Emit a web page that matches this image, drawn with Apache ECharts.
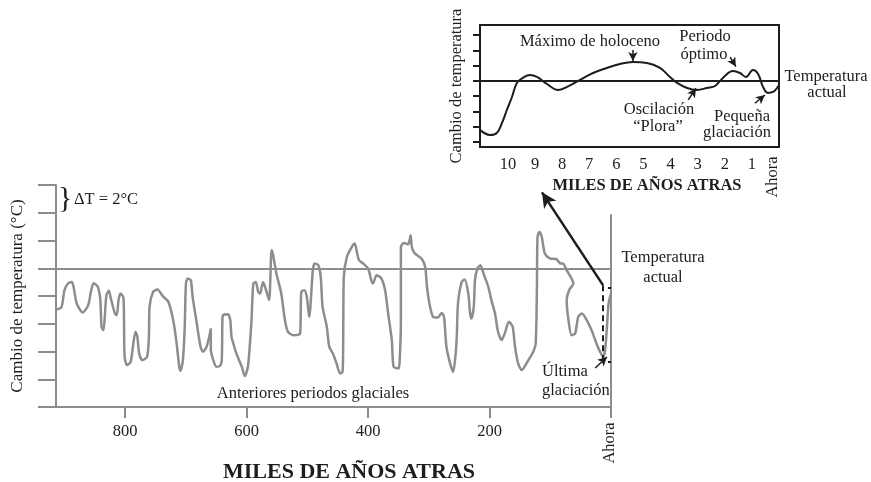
<!DOCTYPE html>
<html><head><meta charset="utf-8">
<script src="https://cdn.jsdelivr.net/npm/echarts@6/dist/echarts.min.js"></script>
<style>html,body{margin:0;padding:0;background:#fff}#c{width:871px;height:482px}</style>
</head><body><div id="c"></div>
<script>
// ---- data (thousands of years ago, temperature change in tick units) ----
const mainYears = [913,905,900,894,888,885,880,870,861,856,
 852,845,841,839,836,834,831,827,823,817,
 814,811,808,803,802,801,797,791,787,783,
 780,777,772,764,761,760,754,747,738,729,
 721,716,711,709,705,702,700,697,692,689,
 683,676,672,666,661,659,659,655,650,644,
 641,640,639,631,627,625,622,617,608,603,
 598,595,592,589,585,581,578,573,568,563,
 559,557,551,543,537,532,523,512,511,510,
 505,501,497,491,488,482,478,475,468,464,
 458,452,446,442,441,440,435,427,422,418,
 415,408,400,394,392,386,378,372,367,361,
 358,350,348,346,346,341,334,330,328,323,
 312,306,303,298,293,285,279,275,271,265,
 260,256,254,252,246,241,235,232,230,226,
 224,220,215,210,202,197,191,186,180,175,
 168,162,158,153,147,136,128,124,122,121,
 118,114,109,101,90,84,79,73,65,62,
 69,73,70,65,59,54,48,40,32,24,
 18,13,10,7,4,0];
const mainTemps = [-2.97,-2.81,-1.58,-1.08,-0.99,-1.35,-2.52,-3.19,-2.66,-1.58,
 -1.08,-1.35,-2.30,-4.22,-4.46,-3.74,-1.94,-1.63,-2.30,-3.26,
 -3.38,-2.30,-1.82,-2.11,-3.74,-6.38,-6.98,-6.74,-5.54,-4.58,
 -4.94,-6.14,-6.62,-6.38,-4.94,-2.78,-1.70,-1.53,-2.01,-2.42,
 -3.74,-5.18,-7.10,-7.39,-6.62,-4.22,-1.10,-0.74,-0.86,-2.06,
 -3.74,-5.66,-6.02,-5.66,-4.82,-4.34,-5.90,-6.62,-7.10,-7.05,
 -6.62,-3.74,-3.38,-3.31,-3.74,-4.94,-5.42,-6.14,-7.10,-7.77,
 -7.10,-5.66,-3.74,-1.10,-0.99,-1.70,-1.82,-0.99,-1.58,-2.30,
 1.29,1.06,-0.38,-1.82,-3.74,-4.58,-4.82,-4.70,-3.26,-1.70,
 -1.58,-2.06,-3.50,-0.14,0.34,0.22,-0.63,-2.78,-4.22,-5.66,
 -6.14,-6.86,-7.58,-7.46,-4.94,-0.63,0.81,1.53,1.78,1.06,
 0.58,0.34,-0.02,-0.99,-1.10,-0.50,-0.74,-1.58,-3.26,-5.18,
 -7.10,-7.22,-6.62,-3.74,1.53,1.82,1.73,2.37,1.53,1.06,
 0.70,0.09,-1.35,-2.78,-3.50,-3.55,-3.22,-3.50,-5.66,-6.86,
 -7.46,-6.26,-4.94,-2.54,-0.99,-0.81,-1.82,-3.26,-3.62,-2.78,
 -0.86,-0.02,0.22,-0.38,-1.35,-2.30,-3.26,-4.58,-5.18,-4.70,
 -3.86,-4.22,-5.66,-6.86,-7.34,-6.62,-6.02,-5.42,-1.35,2.25,
 2.61,2.25,1.06,0.72,0.65,0.36,0.34,-0.14,-0.74,-1.10,
 -1.58,-2.30,-3.74,-4.82,-4.70,-3.50,-3.26,-3.74,-4.46,-5.42,
 -6.02,-6.38,-6.02,-4.46,-2.54,-1.80];
const mainXTicks = [800, 600, 400, 200];

const insetYears = [11.03,10.66,10.41,10.22,10.04,9.85,9.67,9.45,9.19,8.93,8.56,8.15,7.82,7.34,6.86,6.35,5.87,5.39,4.87,4.39,4.02,3.76,3.39,3.03,2.66,2.36,2.07,1.70,1.44,1.22,0.96,0.77,0.59,0.41,0.22,0.0];
const insetTemps = [-3.20,-3.53,-3.40,-2.75,-1.90,-1.05,-0.13,0.20,0.39,0.26,-0.20,-0.59,-0.39,0.07,0.52,0.85,1.11,1.24,1.18,0.85,0.26,-0.13,-0.46,-0.59,-0.46,-0.33,0.20,0.65,0.52,0.26,0.72,0.46,-0.39,-0.78,-0.72,-0.26];
const insetXTicks = [10, 9, 8, 7, 6, 5, 4, 3, 2, 1];
const insetYTicks = [-4, -3, -2, -1, 0, 1, 2, 3];

// ---- styling ----
const FONT = 'Liberation Serif';
const INK = '#1d1d1b';
const GREY = '#8d8d8d';
const FS = 16.5;

const mainData = mainYears.map((y, i) => [y, mainTemps[i]]);
const insetData = insetYears.map((y, i) => [y, insetTemps[i]]);

function txt(text, x, y, o) {
  o = o || {};
  return { type: 'text', x: x, y: y, rotation: o.rot || 0, silent: true, z: 100,
    style: { text: text, fill: INK, fontSize: o.size || FS, fontFamily: FONT,
      fontWeight: o.bold ? 'bold' : 'normal', align: o.align || 'center', verticalAlign: 'middle' } };
}
function seg(a, b, color, width, extra) {
  const s = Object.assign({ coord: a, lineStyle: { color: color, width: width, type: 'solid' } }, extra && extra.from);
  const e = Object.assign({ coord: b }, extra && extra.to);
  return [s, e];
}
const ARROW = { to: { symbol: 'arrow', symbolSize: [7, 9] } };

const chart = echarts.init(document.getElementById('c'), null, { renderer: 'canvas' });
const option = {
  animation: false,
  backgroundColor: '#fff',
  grid: [
    { left: 56, top: 185, width: 555, height: 222, show: false },
    { left: 480, top: 25, width: 299, height: 122, show: true, borderColor: INK, borderWidth: 2, backgroundColor: 'transparent' }
  ],
  xAxis: [
    { gridIndex: 0, type: 'value', inverse: true, min: 0, max: 914,
      axisLine: { show: true, onZero: false, lineStyle: { color: GREY, width: 2 } },
      axisTick: { show: true, customValues: mainXTicks.concat([0]), length: 11, lineStyle: { color: GREY, width: 2 } },
      axisLabel: { show: true, customValues: mainXTicks, margin: 16, color: INK, fontSize: FS, fontFamily: FONT },
      splitLine: { show: false } },
    { gridIndex: 1, type: 'value', inverse: true, min: 0, max: 11.03,
      axisLine: { show: false, onZero: false }, axisTick: { show: false },
      axisLabel: { show: true, customValues: insetXTicks, margin: 9, color: INK, fontSize: FS, fontFamily: FONT },
      splitLine: { show: false } }
  ],
  yAxis: [
    { gridIndex: 0, type: 'value', min: -10, max: 6, interval: 2,
      axisLine: { show: true, onZero: false, lineStyle: { color: GREY, width: 2 } },
      axisTick: { show: true, length: 18, lineStyle: { color: GREY, width: 2 } },
      axisLabel: { show: false }, splitLine: { show: false },
      name: 'Cambio de temperatura (°C)', nameLocation: 'middle', nameGap: 30, nameRotate: 90,
      nameTextStyle: { color: INK, fontSize: 17, fontFamily: FONT } },
    { gridIndex: 1, type: 'value', min: -4.32, max: 3.66,
      axisLine: { show: false, onZero: false },
      axisTick: { show: true, customValues: insetYTicks, length: 7, lineStyle: { color: INK, width: 2 } },
      axisLabel: { show: false }, splitLine: { show: false },
      name: 'Cambio de temperatura', nameLocation: 'middle', nameGap: 15, nameRotate: 90,
      nameTextStyle: { color: INK, fontSize: 16.5, fontFamily: FONT } }
  ],
  series: [
    { type: 'line', xAxisIndex: 0, yAxisIndex: 0, data: mainData, symbol: 'none', smooth: 0.25,
      lineStyle: { color: GREY, width: 2.5 }, z: 3,
      markLine: { silent: true, symbol: ['none', 'none'], label: { show: false }, lineStyle: { type: 'solid' },
        data: [
          { yAxis: 0, lineStyle: { color: GREY, width: 2, type: 'solid' } },
          seg([0, 3.9], [0, -10], GREY, 2),
          [{ coord: [13.2, -1.22], lineStyle: { color: INK, width: 2, type: [6, 4] } }, { coord: [13.2, -6.74] }],
          seg([5, -1.39], [0, -1.39], INK, 2),
          seg([5, -6.74], [0, -6.74], INK, 2),
          seg([13.2, -1.22], [113.7, 5.47], INK, 2.5, { to: { symbol: 'arrow', symbolSize: [11, 15] } }),
          seg([26, -7.19], [6.6, -6.4], INK, 1.5, ARROW)
        ] } },
    { type: 'line', xAxisIndex: 1, yAxisIndex: 1, data: insetData, symbol: 'none', smooth: 0.4,
      lineStyle: { color: INK, width: 2 }, z: 3,
      markLine: { silent: true, symbol: ['none', 'none'], label: { show: false }, lineStyle: { type: 'solid' },
        data: [
          { yAxis: 0, lineStyle: { color: INK, width: 2, type: 'solid' } },
          seg([5.39, 2.03], [5.39, 1.31], INK, 1.5, ARROW),
          seg([1.80, 1.55], [1.59, 0.94], INK, 1.5, ARROW),
          seg([3.35, -1.24], [3.06, -0.48], INK, 1.5, ARROW),
          seg([0.89, -1.46], [0.52, -0.92], INK, 1.5, ARROW)
        ] } }
  ],
  graphic: [
    txt('}', 58, 199, { size: 30, align: 'left' }),
    txt('ΔT = 2°C', 74, 200, { align: 'left' }),
    txt('Temperatura', 663, 258),
    txt('actual', 663, 278),
    txt('Anteriores periodos glaciales', 313, 394),
    txt('Última', 542, 372, { align: 'left' }),
    txt('glaciación', 542, 391, { align: 'left' }),
    txt('Ahora', 610, 443, { rot: Math.PI / 2 }),
    txt('MILES DE AÑOS ATRAS', 349, 472, { bold: true, size: 22 }),
    txt('Máximo de holoceno', 590, 42),
    txt('Periodo', 705, 37),
    txt('óptimo', 704, 55),
    txt('Temperatura', 826, 77),
    txt('actual', 827, 93),
    txt('Oscilación', 659, 110),
    txt('“Plora”', 658, 127),
    txt('Pequeña', 742, 117),
    txt('glaciación', 737, 133),
    txt('Ahora', 773, 177, { rot: Math.PI / 2 }),
    txt('MILES DE AÑOS ATRAS', 647, 186, { bold: true, size: 16.5 })
  ]
};
chart.setOption(option);
</script>
</body></html>
